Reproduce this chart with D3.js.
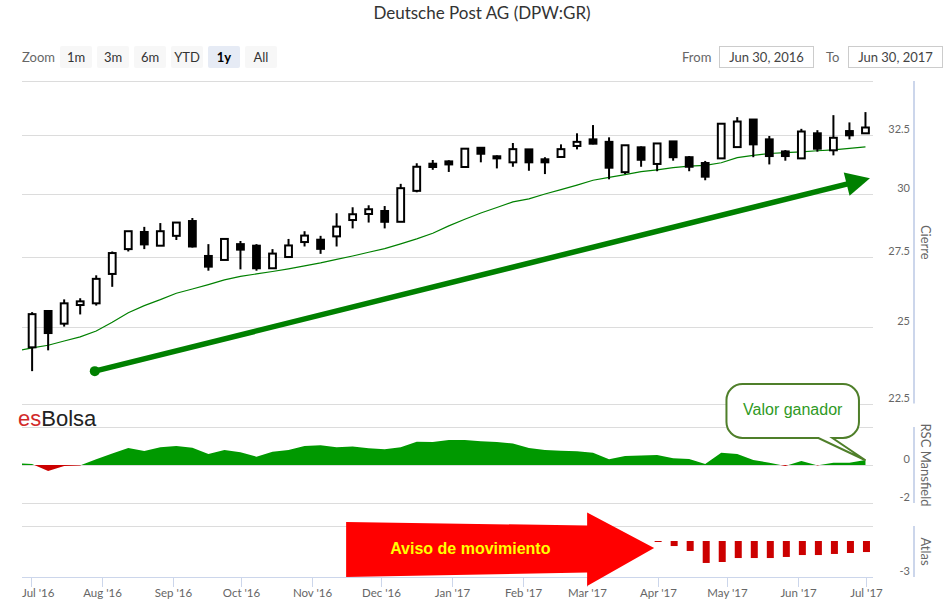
<!doctype html>
<html>
<head>
<meta charset="utf-8">
<title>Deutsche Post AG (DPW:GR)</title>
<script src="https://d3js.org/d3.v7.min.js"></script>
<style>
  body { margin: 0; background: #fff; }
  text { font-family: Lato, "Noto Sans", sans-serif; }
</style>
</head>
<body>
<svg width="948" height="612"></svg>
<script>
// weekly candles, one per Friday, 1 Jul 2016 .. 30 Jun 2017
var firstWeek = new Date(2016, 6, 1, 15);
var open  = [24.30, 25.54, 25.10, 25.75, 25.81, 26.87, 27.80, 28.46, 27.93, 28.31, 28.89, 27.54, 27.39, 27.99, 27.93, 27.08, 27.50, 28.07, 28.16, 28.29, 28.93, 29.17, 29.29, 28.86, 30.11, 31.25, 31.35, 31.11, 31.94, 31.57, 31.31, 31.87, 31.44, 31.54, 32.02, 32.31, 32.20, 30.89, 31.96, 31.24, 32.22, 31.53, 31.28, 31.48, 31.97, 33.20, 32.31, 31.78, 31.48, 32.58, 31.83, 32.68, 32.58];
var high  = [25.50, 25.54, 25.95, 25.99, 26.82, 27.71, 28.49, 28.66, 28.81, 28.83, 29.01, 27.99, 28.19, 28.11, 27.99, 27.80, 28.19, 28.49, 28.31, 29.20, 29.44, 29.52, 29.49, 30.40, 31.27, 31.41, 31.40, 31.90, 31.94, 31.61, 32.15, 31.87, 31.53, 32.09, 32.58, 32.95, 32.40, 32.05, 32.00, 32.13, 32.22, 31.58, 31.37, 33.01, 33.31, 33.20, 32.46, 31.84, 32.78, 32.72, 33.40, 33.07, 33.54];
var low   = [23.52, 24.20, 25.00, 25.42, 25.73, 26.40, 27.71, 27.80, 27.93, 28.15, 27.86, 26.99, 27.39, 27.04, 26.99, 27.08, 27.50, 27.90, 27.62, 27.90, 28.60, 28.83, 28.60, 28.86, 30.05, 30.99, 30.90, 31.11, 31.31, 31.05, 31.12, 30.95, 30.81, 31.54, 31.87, 32.09, 30.59, 30.81, 31.12, 30.93, 31.38, 30.93, 30.55, 31.48, 31.97, 31.53, 31.22, 31.38, 31.48, 31.77, 31.61, 32.31, 32.58];
var close = [25.43, 24.78, 25.81, 25.88, 26.69, 27.65, 28.49, 27.98, 28.49, 28.83, 27.90, 27.14, 28.19, 27.78, 27.08, 27.63, 27.94, 28.32, 27.81, 28.67, 29.16, 29.36, 28.86, 30.22, 31.12, 31.11, 31.22, 31.90, 31.68, 31.48, 31.88, 31.31, 31.31, 31.88, 32.20, 32.12, 31.08, 32.05, 31.42, 32.13, 31.53, 31.12, 30.70, 33.01, 33.11, 32.09, 31.58, 31.58, 32.66, 31.90, 32.38, 32.49, 32.84];

// 30 week average and Mansfield relative strength, one more week before the first candle
var media30 = [24.18, 24.28, 24.37, 24.51, 24.65, 24.85, 25.15, 25.48, 25.73, 25.94, 26.17, 26.32, 26.48, 26.65, 26.78, 26.87, 26.96, 27.06, 27.17, 27.28, 27.41, 27.54, 27.68, 27.82, 28.00, 28.19, 28.41, 28.70, 28.96, 29.21, 29.43, 29.66, 29.78, 29.98, 30.16, 30.35, 30.55, 30.67, 30.79, 30.91, 30.99, 31.08, 31.15, 31.18, 31.29, 31.51, 31.61, 31.69, 31.73, 31.76, 31.81, 31.85, 31.91, 31.98];
var mansfield = [0.10, 0.05, -0.32, -0.05, -0.02, 0.30, 0.60, 0.89, 0.74, 0.93, 1.00, 0.91, 0.58, 0.79, 0.67, 0.44, 0.70, 0.79, 1.00, 1.04, 0.93, 0.98, 0.88, 0.83, 0.93, 1.23, 1.21, 1.32, 1.32, 1.25, 1.21, 1.13, 0.89, 0.79, 0.75, 0.72, 0.65, 0.30, 0.47, 0.50, 0.53, 0.35, 0.32, 0.05, 0.65, 0.58, 0.26, 0.12, -0.05, 0.21, -0.02, 0.12, 0.12, 0.26];

// Atlas signal, starts on week 39 (31 Mar 2017)
var atlasStart = 39;
var atlas = [-0.08, -0.42, -0.83, -1.83, -1.75, -1.42, -1.42, -1.42, -1.33, -1.17, -1.17, -1.08, -1.00, -0.92];

var priceTicks = [22.5, 25, 27.5, 30, 32.5, 35];
var rscTicks = [-2, 0, 2];
var zoomButtons = ["1m", "3m", "6m", "YTD", "1y", "All"];

var weeks = d3.range(open.length).map(function (i) { return d3.timeDay.offset(firstWeek, 7 * i); });
var weeksExt = [d3.timeDay.offset(firstWeek, -7)].concat(weeks);

var left = 22, right = 873;
var svg = d3.select("svg");

var x = d3.scaleTime()
    .domain([new Date(2016, 5, 27, 5), new Date(2017, 6, 3, 22)])
    .range([left, right]);
var yP = d3.scaleLog().domain([22.5, 35]).range([403.5, 81]);
var yR = d3.scaleLinear().domain([-2, 2]).range([503, 427]);
var yA = d3.scaleLinear().domain([-3, 1.25]).range([577, 526]);

svg.append("defs").append("clipPath").attr("id", "plot")
    .append("rect").attr("x", left).attr("y", 78).attr("width", right - left).attr("height", 500);

// ---- header
svg.append("text").attr("x", 482).attr("y", 19).attr("text-anchor", "middle")
    .attr("font-size", 17).attr("fill", "#333").text("Deutsche Post AG (DPW:GR)");

svg.append("text").attr("x", 22).attr("y", 62).attr("font-size", 13).attr("fill", "#666").text("Zoom");
var btn = svg.selectAll("g.btn").data(zoomButtons).enter().append("g").attr("class", "btn");
btn.append("rect")
    .attr("x", function (d, i) { return 60 + 37 * i; }).attr("y", 46)
    .attr("width", 32).attr("height", 22).attr("rx", 2)
    .attr("fill", function (d) { return d == "1y" ? "#e6ebf5" : "#f7f7f7"; });
btn.append("text")
    .attr("x", function (d, i) { return 76 + 37 * i; }).attr("y", 61.5)
    .attr("text-anchor", "middle").attr("font-size", 13)
    .attr("font-weight", function (d) { return d == "1y" ? "bold" : "normal"; })
    .attr("fill", function (d) { return d == "1y" ? "#000" : "#333"; })
    .text(function (d) { return d; });

svg.append("text").attr("x", 682).attr("y", 62).attr("font-size", 13).attr("fill", "#666").text("From");
svg.append("text").attr("x", 826).attr("y", 62).attr("font-size", 13).attr("fill", "#666").text("To");
[[719.5, "Jun 30, 2016"], [848.5, "Jun 30, 2017"]].forEach(function (b) {
    svg.append("rect").attr("x", b[0]).attr("y", 46.5).attr("width", 94).attr("height", 21)
        .attr("fill", "#fff").attr("stroke", "#ccc");
    svg.append("text").attr("x", b[0] + 47).attr("y", 62).attr("text-anchor", "middle")
        .attr("font-size", 13).attr("fill", "#444").text(b[1]);
});

// ---- grids
var grid = svg.append("g").attr("stroke", "#dcdcdc").attr("shape-rendering", "crispEdges");
priceTicks.forEach(function (t) {
    grid.append("line").attr("x1", left).attr("x2", right).attr("y1", Math.round(yP(t)) + 0.5).attr("y2", Math.round(yP(t)) + 0.5);
});
rscTicks.forEach(function (t) {
    grid.append("line").attr("x1", left).attr("x2", right).attr("y1", Math.round(yR(t)) + 0.5).attr("y2", Math.round(yR(t)) + 0.5);
});
grid.append("line").attr("x1", left).attr("x2", right).attr("y1", yA.range()[1] + 0.5).attr("y2", yA.range()[1] + 0.5);

// y labels
var labels = svg.append("g").attr("font-size", 11).attr("fill", "#666").attr("text-anchor", "end");
priceTicks.slice(0, -1).forEach(function (t) {
    labels.append("text").attr("x", 910).attr("y", yP(t) - 2).text(t);
});
[-2, 0].forEach(function (t) {
    labels.append("text").attr("x", 910).attr("y", yR(t) - 2).text(t);
});
labels.append("text").attr("x", 910).attr("y", yA(-3) - 2).text(-3);

// right axis lines
var axisLines = svg.append("g").attr("stroke", "#ccd6eb").attr("stroke-width", 2);
[yP.range(), yR.range(), yA.range()].forEach(function (r) {
    axisLines.append("line").attr("x1", 914).attr("x2", 914).attr("y1", r[0]).attr("y2", r[1]);
});

// axis titles
[["Cierre", yP], ["RSC Mansfield", yR], ["Atlas", yA]].forEach(function (a) {
    var r = a[1].range();
    svg.append("text").attr("transform", "translate(921," + (r[0] + r[1]) / 2 + ") rotate(90)")
        .attr("text-anchor", "middle").attr("font-size", 13).attr("fill", "#666").text(a[0]);
});

// ---- x axis
svg.append("line").attr("x1", left).attr("x2", right).attr("y1", 577.5).attr("y2", 577.5)
    .attr("stroke", "#ccd6eb");
var months = x.ticks(d3.timeMonth.every(1));
var fmt = d3.timeFormat("%b '%y");
var xt = svg.append("g");
months.forEach(function (m) {
    var px = Math.round(x(m)) + 0.5;
    xt.append("line").attr("x1", px).attr("x2", px).attr("y1", 577).attr("y2", 587).attr("stroke", "#ccd6eb");
    var t = xt.append("text").attr("x", px).attr("y", 597).attr("text-anchor", "middle")
        .attr("font-size", 11.5).attr("fill", "#666").text(fmt(m));
    var w = t.node().getComputedTextLength();
    if (px - w / 2 < left) t.attr("x", left).attr("text-anchor", "start");
});

var plot = svg.append("g").attr("clip-path", "url(#plot)");

// ---- Mansfield area
var rscArea = d3.area()
    .x(function (d, i) { return x(weeksExt[i]); })
    .y0(yR(0))
    .y1(function (d) { return yR(d); });
var defs = svg.select("defs");
defs.append("clipPath").attr("id", "pos").append("rect").attr("x", left).attr("y", 420).attr("width", right - left).attr("height", yR(0) - 420);
defs.append("clipPath").attr("id", "neg").append("rect").attr("x", left).attr("y", yR(0)).attr("width", right - left).attr("height", 40);
plot.append("g").attr("clip-path", "url(#pos)").append("path").datum(mansfield)
    .attr("d", rscArea).attr("fill", "#009900");
plot.append("g").attr("clip-path", "url(#neg)").append("path").datum(mansfield)
    .attr("d", rscArea).attr("fill", "#cc0000");

// ---- 30 week average
plot.append("path").datum(media30)
    .attr("d", d3.line().x(function (d, i) { return x(weeksExt[i]); }).y(function (d) { return yP(d); }))
    .attr("fill", "none").attr("stroke", "#008000").attr("stroke-width", 1.2);

// ---- candles
var candle = plot.selectAll("g.candle").data(weeks).enter().append("g").attr("class", "candle");
candle.append("line")
    .attr("x1", function (d) { return x(d); }).attr("x2", function (d) { return x(d); })
    .attr("y1", function (d, i) { return yP(high[i]); })
    .attr("y2", function (d, i) { return yP(low[i]); })
    .attr("stroke", "#000").attr("stroke-width", 2);
candle.append("rect")
    .attr("x", function (d) { return x(d) - 3.4; })
    .attr("width", 6.8)
    .attr("y", function (d, i) { return yP(Math.max(open[i], close[i])); })
    .attr("height", function (d, i) { return Math.max(1, yP(Math.min(open[i], close[i])) - yP(Math.max(open[i], close[i]))); })
    .attr("fill", function (d, i) { return close[i] >= open[i] ? "#fff" : "#000"; })
    .attr("stroke", "#000").attr("stroke-width", 2);

// ---- Atlas columns
plot.selectAll("rect.atlas").data(atlas).enter().append("rect").attr("class", "atlas")
    .attr("x", function (d, i) { return x(weeks[atlasStart + i]) - 2.5; })
    .attr("width", 7)
    .attr("y", yA(0))
    .attr("height", function (d) { return Math.max(1, yA(d) - yA(0)); })
    .attr("fill", "#cc0000");

// ---- trend arrow
var trendFrom = [new Date(2016, 6, 29), 23.52];
var trendTo = [new Date(2017, 6, 2, 14), 30.63];
var p0 = [x(trendFrom[0]), yP(trendFrom[1])], p1 = [x(trendTo[0]), yP(trendTo[1])];
var len = Math.hypot(p1[0] - p0[0], p1[1] - p0[1]);
var u = [(p1[0] - p0[0]) / len, (p1[1] - p0[1]) / len], n = [-u[1], u[0]];
var base = [p1[0] - 24 * u[0], p1[1] - 24 * u[1]];
svg.append("line").attr("x1", p0[0]).attr("y1", p0[1]).attr("x2", base[0] + u[0]).attr("y2", base[1] + u[1])
    .attr("stroke", "#008000").attr("stroke-width", 5.5);
svg.append("circle").attr("cx", p0[0]).attr("cy", p0[1]).attr("r", 5).attr("fill", "#008000");
svg.append("path").attr("fill", "#008000")
    .attr("d", "M" + p1 + "L" + [base[0] + 12 * n[0], base[1] + 12 * n[1]] + "L" + [base[0] - 12 * n[0], base[1] - 12 * n[1]] + "Z");

// ---- logo
var logo = svg.append("text").attr("x", 18).attr("y", 425.5).attr("font-size", 22)
    .style("font-family", "'Liberation Sans', Arial, sans-serif");
logo.append("tspan").attr("fill", "#d22a2a").text("es");
logo.append("tspan").attr("fill", "#222").text("Bolsa");

// ---- callout "Valor ganador"
var tip = [x(weeks[weeks.length - 1]), yR(0.25)];
var bx0 = tip[0] - 139, bx1 = tip[0] - 6.5, by0 = 384, by1 = 438, r = 16;
var t1 = tip[0] - 47, t2 = tip[0] - 33;
svg.append("path")
    .attr("d", "M" + (bx0 + r) + "," + by0 + "H" + (bx1 - r) + "A" + r + "," + r + " 0 0 1 " + bx1 + "," + (by0 + r) +
        "V" + (by1 - r) + "A" + r + "," + r + " 0 0 1 " + (bx1 - r) + "," + by1 +
        "H" + t2 + "L" + tip[0] + "," + tip[1] + "L" + t1 + "," + by1 +
        "H" + (bx0 + r) + "A" + r + "," + r + " 0 0 1 " + bx0 + "," + (by1 - r) +
        "V" + (by0 + r) + "A" + r + "," + r + " 0 0 1 " + (bx0 + r) + "," + by0 + "Z")
    .attr("fill", "#fff").attr("stroke", "#4f7f2a").attr("stroke-width", 2);
svg.append("text").attr("x", (bx0 + bx1) / 2).attr("y", 415).attr("text-anchor", "middle")
    .attr("font-size", 16).attr("fill", "#2f9a1f")
    .style("font-family", "'Liberation Sans', Arial, sans-serif").text("Valor ganador");

// ---- red arrow "Aviso de movimiento"
var ax = x(weeks[atlasStart]) - 3, ay = 548;
var redPts = [[ax - 308, 522], [ax - 67, 525.5], [ax - 67, 512.5], [ax, ay], [ax - 67, 586], [ax - 67, 572.5], [ax - 308, 577]];
svg.append("path").attr("d", "M" + redPts.join("L") + "Z").attr("fill", "#ff0000");
svg.append("text").attr("x", ax - 264).attr("y", 553.5).attr("font-size", 16).attr("font-weight", "bold")
    .attr("fill", "#ffff00").style("font-family", "'Liberation Sans', Arial, sans-serif").text("Aviso de movimiento");
</script>
</body>
</html>
